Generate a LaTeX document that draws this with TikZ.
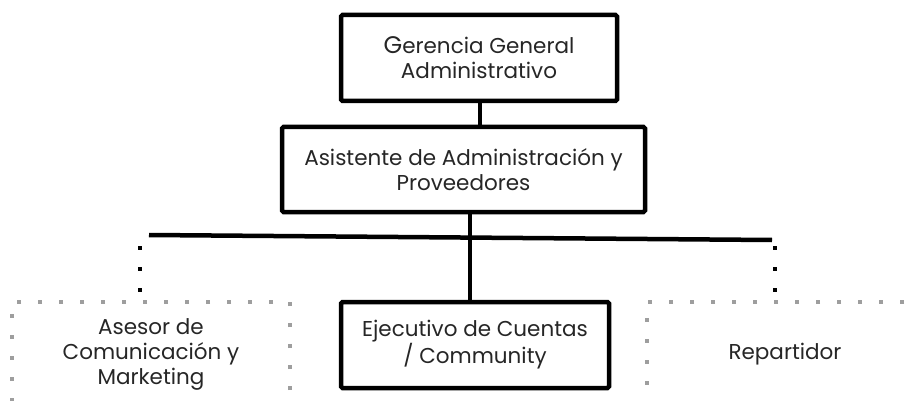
\documentclass[tikz,border=0pt]{standalone}
\usepackage{fontspec}
\setmainfont{Poppins}
\begin{document}
\begin{tikzpicture}[x=1pt,y=-1pt,
  solidbox/.style={draw=black,line width=4.5pt,rounded corners=1.5pt,align=center,inner sep=0pt,
    font=\fontsize{21.5}{25}\selectfont,text=black!85},
  dotbox/.style={draw=black!38,line width=4pt,dash pattern=on 4pt off 17pt,align=center,inner sep=0pt,
    font=\fontsize{21.5}{25}\selectfont,text=black!85},
  bar/.style={line width=4.5pt},
  dotline/.style={line width=4pt,dash pattern=on 4pt off 17pt}]
\useasboundingbox (0,0) rectangle (916,401);
\node[solidbox,minimum width=276pt,minimum height=86pt] (gg) at (479,58) {{\fontsize{24}{25}\selectfont G}erencia General\\Administrativo};
\node[solidbox,minimum width=363pt,minimum height=85pt] (as) at (463.5,169.5) {Asistente de Administración y\\Proveedores};
\node[solidbox,minimum width=268pt,minimum height=86pt] (ej) at (475,345) {Ejecutivo de Cuentas\\/ Community};
\node[dotbox,minimum width=278pt,minimum height=104pt] (ac) at (151,354) {Asesor de\\Comunicación y\\Marketing};
\node[dotbox,minimum width=276pt,minimum height=104pt] (rp) at (785,354) {Repartidor};
\coordinate (bl) at (149,235);
\coordinate (br) at (772,240);
\coordinate (dl1) at (140,246);
\coordinate (dl2) at (140,293);
\coordinate (dr1) at (775,246);
\coordinate (dr2) at (775,293);
\draw[bar] (gg.south -| 480,0) -- (as.north -| 480,0);
\draw[bar] (ej.north -| 470,0) -- (as.south -| 470,0);
\draw[bar] (bl) -- (br);
\draw[dotline] (dl1) -- (dl2);
\draw[dotline] (dr1) -- (dr2);
\end{tikzpicture}
\end{document}
